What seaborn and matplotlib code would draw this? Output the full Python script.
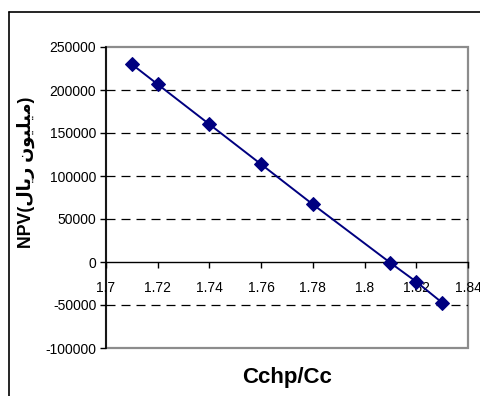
import matplotlib
matplotlib.use("Agg")
import matplotlib.pyplot as plt
import seaborn as sns
import pandas as pd
from matplotlib.lines import Line2D
from matplotlib.patches import Rectangle
from matplotlib.ticker import FixedLocator

# Data
cchp_cc = [1.71, 1.72, 1.74, 1.76, 1.78, 1.81, 1.82, 1.83]
npv = [229900, 206600, 160100, 113600, 67000, -1000, -23000, -47300]
x_ticks = [1.70, 1.72, 1.74, 1.76, 1.78, 1.80, 1.82, 1.84]
x_tick_labels = ["1.7", "1.72", "1.74", "1.76", "1.78", "1.8", "1.82", "1.84"]
y_ticks = [-100000, -50000, 0, 50000, 100000, 150000, 200000, 250000]
y_tick_labels = ["-100000", "-50000", "0", "50000", "100000", "150000", "200000", "250000"]
grid_levels = [200000, 150000, 100000, 50000, -50000]

# Y label: "NPV(میلیون ریال)" in visual order with Arabic presentation forms
arabic_visual = "\uFEDD\uFE8E\uFEF3\uFEAD \uFEE5\uFEEE\uFEF4\uFEE0\uFEF4\uFEE3"
y_label = "NPV(" + arabic_visual + ")"
x_label = "Cchp/Cc"

df = pd.DataFrame({"x": cchp_cc, "y": npv})

sns.set_style("white")
plt.rcParams['font.family'] = ['Liberation Sans', 'DejaVu Sans']
plt.rcParams['text.color'] = 'black'
plt.rcParams['axes.labelcolor'] = 'black'
plt.rcParams['xtick.color'] = 'black'
plt.rcParams['ytick.color'] = 'black'

fig = plt.figure(figsize=(4.81, 3.96), dpi=100)
ax = fig.add_axes([106/481, 1-348/396, (468-106)/481, (348-47)/396])

for g in grid_levels:
    ax.axhline(g, color="black", lw=0.9, ls=(0, (7.2, 4.8)), zorder=1)

sns.lineplot(data=df, x="x", y="y", ax=ax, color="#000080", lw=1.4,
             marker="D", markersize=6.8, markeredgecolor="#000080",
             markerfacecolor="#000080", zorder=3, sort=False)

ax.set_xlim(1.70, 1.84)
ax.set_ylim(-100000, 250000)
ax.xaxis.set_major_locator(FixedLocator(x_ticks))
ax.set_xticklabels(x_tick_labels)
ax.yaxis.set_major_locator(FixedLocator(y_ticks))
ax.set_yticklabels(y_tick_labels)

# frame: gray box, black left axis, black x-axis at y=0
ax.add_patch(Rectangle((0, 0), 1, 1, transform=ax.transAxes, fill=False,
                       edgecolor="#8c8c8c", lw=1.6, clip_on=False, zorder=0.5))
ax.spines["top"].set_visible(False)
ax.spines["right"].set_visible(False)
ax.spines["bottom"].set_position(("data", 0))
ax.spines["bottom"].set_color("black")
ax.spines["bottom"].set_linewidth(1.0)
ax.spines["left"].set_color("black")
ax.spines["left"].set_linewidth(1.2)
ax.spines["bottom"].set_zorder(2)

ax.tick_params(axis="x", direction="out", length=4, width=1, color="black",
               labelcolor="black", labelsize=10, pad=10, bottom=True)
ax.tick_params(axis="y", direction="out", length=4, width=1, color="black",
               labelcolor="black", labelsize=10, pad=3, left=True)

ax.set_xlabel(x_label, fontsize=16, fontweight="bold", va="center", color="black")
ax.xaxis.set_label_coords(0.5, -(377-348)/301)
ax.set_ylabel(y_label, fontsize=12.8, fontweight="bold", va="center", color="black")
ax.yaxis.set_label_coords((26-106)/362, (348-172)/301)
ax.patch.set_alpha(0)

# outer chart-area border (only left and top visible)
fig.add_artist(Line2D([9/481, 9/481], [0, 1-12/396], transform=fig.transFigure,
                      color="black", lw=1.2))
fig.add_artist(Line2D([9/481, 1], [1-12/396, 1-12/396], transform=fig.transFigure,
                      color="black", lw=1.2))

fig.savefig("out.png", dpi=100, facecolor="white")
